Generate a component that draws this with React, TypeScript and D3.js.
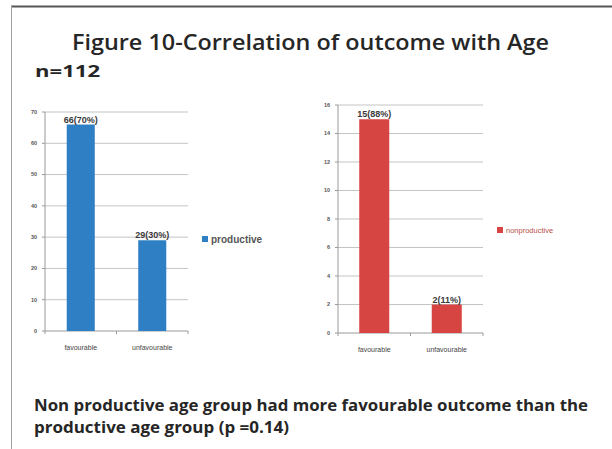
import React from "react";
import * as d3 from "d3";

// Outcome categories shared by both panels
const categories = ["favourable", "unfavourable"];

// Productive age group counts and their percentage labels
const productiveValues = [66, 29];
const productiveLabels = ["66(70%)", "29(30%)"];
const productiveTicks = [0, 10, 20, 30, 40, 50, 60, 70];

// Non-productive age group counts and their percentage labels
const nonproductiveValues = [15, 2];
const nonproductiveLabels = ["15(88%)", "2(11%)"];
const nonproductiveTicks = [0, 2, 4, 6, 8, 10, 12, 14, 16];

const titleText = "Figure 10-Correlation of outcome with Age";
const subtitleText = "n=112";
const noteLines = [
  "Non productive age group had more favourable outcome than the",
  "productive age group (p =0.14)",
];

type PanelProps = {
  values: number[];
  labels: string[];
  ticks: number[];
  xRange: [number, number];
  yRange: [number, number];
  padding: number;
  color: string;
  legendName: string;
  legendX: number;
  legendY: number;
  legendSize: number;
  legendColor: string;
  legendWeight: number;
};

function Panel(p: PanelProps) {
  const x = d3
    .scaleBand<string>()
    .domain(categories)
    .range(p.xRange)
    .paddingInner(p.padding)
    .paddingOuter(p.padding / 2);
  const y = d3
    .scaleLinear()
    .domain([0, p.ticks[p.ticks.length - 1]])
    .range(p.yRange);
  const [x0, x1] = p.xRange;
  const step = x.step();
  const boundaries = [x0, x0 + step, x1];
  return (
    <g>
      {p.ticks.map((t) => (
        <g key={t}>
          {t > 0 && (
            <line x1={x0} x2={x1} y1={y(t)} y2={y(t)} stroke="#c4c4c4" strokeWidth={1} />
          )}
          <line x1={x0 - 3} x2={x0} y1={y(t)} y2={y(t)} stroke="#9a9a9a" strokeWidth={1} />
          <text
            x={x0 - 8}
            y={y(t)}
            dy="0.35em"
            textAnchor="end"
            fontSize={5.5}
            fontWeight={700}
            fill="#555"
            fontFamily="Liberation Sans, Arial, sans-serif"
          >
            {t}
          </text>
        </g>
      ))}
      <line x1={x0} x2={x0} y1={y(0)} y2={y(p.ticks[p.ticks.length - 1])} stroke="#9a9a9a" strokeWidth={1} />
      <line x1={x0} x2={x1} y1={y(0)} y2={y(0)} stroke="#9a9a9a" strokeWidth={1} />
      {boundaries.map((b, i) => (
        <line key={i} x1={b} x2={b} y1={y(0)} y2={y(0) + 3} stroke="#9a9a9a" strokeWidth={1} />
      ))}
      {categories.map((c, i) => (
        <g key={c}>
          <rect
            x={x(c)!}
            y={y(p.values[i])}
            width={x.bandwidth()}
            height={y(0) - y(p.values[i])}
            fill={p.color}
          />
          <text
            x={x(c)! + x.bandwidth() / 2}
            y={y(p.values[i]) - 2}
            textAnchor="middle"
            fontSize={9}
            fontWeight={700}
            fill="#3a3a3a"
            fontFamily="Liberation Sans, Arial, sans-serif"
          >
            {p.labels[i]}
          </text>
          <text
            x={x(c)! + x.bandwidth() / 2}
            y={y(0) + 19}
            textAnchor="middle"
            fontSize={7}
            fill="#444"
            fontFamily="Liberation Sans, Arial, sans-serif"
          >
            {c}
          </text>
        </g>
      ))}
      <rect x={p.legendX} y={p.legendY - 3} width={6} height={6} fill={p.color} />
      <text
        x={p.legendX + 9}
        y={p.legendY}
        dy="0.35em"
        fontSize={p.legendSize}
        fontWeight={p.legendWeight}
        fill={p.legendColor}
        fontFamily="Liberation Sans, Arial, sans-serif"
      >
        {p.legendName}
      </text>
    </g>
  );
}

export default function App() {
  return (
    <svg
      width={612}
      height={449}
      style={{ position: "absolute", left: 0, top: 0, background: "#fff" }}
    >
      <rect x={0} y={0} width={612} height={449} fill="#fff" />
      <line x1={11} x2={612} y1={6.5} y2={6.5} stroke="#555" strokeWidth={1.8} />
      <line x1={11.5} x2={11.5} y1={6} y2={449} stroke="#a0a0a0" strokeWidth={1} />

      <text
        x={72}
        y={50}
        fontSize={21}
        fontWeight={600}
        fill="#262626"
        textLength={477}
        lengthAdjust="spacingAndGlyphs"
        fontFamily="Open Sans, Liberation Sans, sans-serif"
      >
        {titleText}
      </text>
      <text
        x={35}
        y={77}
        fontSize={16}
        fontWeight={700}
        fill="#262626"
        textLength={65}
        lengthAdjust="spacingAndGlyphs"
        fontFamily="Open Sans, Liberation Sans, sans-serif"
      >
        {subtitleText}
      </text>

      <Panel
        values={productiveValues}
        labels={productiveLabels}
        ticks={productiveTicks}
        xRange={[45, 188]}
        yRange={[331, 112]}
        padding={0.608}
        color="#2f7fc4"
        legendName="productive"
        legendX={202}
        legendY={239}
        legendSize={10}
        legendColor="#555"
        legendWeight={700}
      />
      <Panel
        values={nonproductiveValues}
        labels={nonproductiveLabels}
        ticks={nonproductiveTicks}
        xRange={[338, 483]}
        yRange={[333, 105]}
        padding={0.586}
        color="#d64541"
        legendName="nonproductive"
        legendX={497}
        legendY={230}
        legendSize={7.5}
        legendColor="#b9504c"
        legendWeight={400}
      />

      {noteLines.map((line, i) => (
        <text
          key={i}
          x={34}
          y={411 + i * 22}
          fontSize={16}
          fontWeight={700}
          fill="#262626"
          textLength={i === 0 ? 554 : 255}
          lengthAdjust="spacingAndGlyphs"
          fontFamily="Open Sans, Liberation Sans, sans-serif"
        >
          {line}
        </text>
      ))}
    </svg>
  );
}
